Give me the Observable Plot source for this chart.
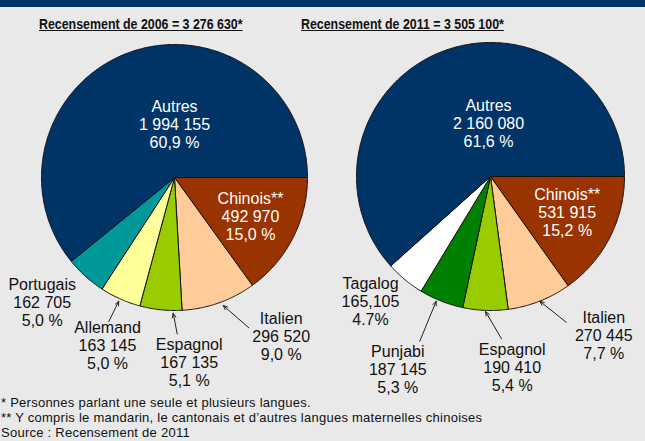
<!DOCTYPE html>
<html><head><meta charset="utf-8">
<script src="https://cdn.jsdelivr.net/npm/d3@7"></script>
<script src="https://cdn.jsdelivr.net/npm/@observablehq/plot@0.6"></script>
<style>
html,body{margin:0;padding:0;background:#e9e9e9;}
#wrap{position:relative;width:645px;height:441px;overflow:hidden;background:#e9e9e9;font-family:"Liberation Sans",Arial,sans-serif;color:#111;}
#bar{position:absolute;left:0;top:0;width:645px;height:7px;background:#003366;}
.titre{position:absolute;top:16px;line-height:16px;font-family:"Liberation Sans",Arial,sans-serif;font-weight:bold;font-size:14px;text-decoration:underline;white-space:nowrap;transform:scaleX(0.885);transform-origin:0 0;}
#notes{position:absolute;left:1px;top:396px;font-size:13px;letter-spacing:0.25px;line-height:14.8px;white-space:nowrap;}
#chart{position:absolute;left:0;top:0;}
</style></head>
<body>
<div id="wrap">
  <div id="bar"></div>
  <div class="titre" id="t1" style="left:39px"></div>
  <div class="titre" id="t2" style="left:301px"></div>
  <div id="chart"></div>
  <div id="notes"></div>
</div>
<script>
// ---- Data ----
const titres = ["Recensement de 2006 = 3 276 630*", "Recensement de 2011 = 3 505 100*"];
const langues2006 = ["Chinois**", "Italien", "Espagnol", "Allemand", "Portugais", "Autres"];
const valeurs2006 = [492970, 296520, 167135, 163145, 162705, 1994155];
const nombres2006 = ["492 970", "296 520", "167 135", "163 145", "162 705", "1 994 155"];
const pourcents2006 = ["15,0 %", "9,0 %", "5,1 %", "5,0 %", "5,0 %", "60,9 %"];

const langues2011 = ["Chinois**", "Italien", "Espagnol", "Punjabi", "Tagalog", "Autres"];
const valeurs2011 = [531915, 270445, 190410, 187145, 165105, 2160080];
const nombres2011 = ["531 915", "270 445", "190 410", "187 145", "165,105", "2 160 080"];
const pourcents2011 = ["15,2 %", "7,7 %", "5,4 %", "5,3 %", "4.7%", "61,6 %"];

const notes = [
  "* Personnes parlant une seule et plusieurs langues.",
  "** Y compris le mandarin, le cantonais et d’autres langues maternelles chinoises",
  "Source : Recensement de 2011"
];

// ---- Styles / layout ----
const palette = {
  "Chinois**": "#993300", "Italien": "#ffcc99", "Espagnol": "#99cc00",
  "Allemand": "#ffff99", "Portugais": "#009999", "Punjabi": "#008000",
  "Tagalog": "#ffffff", "Autres": "#003366"
};
const blanc = new Set(["Chinois**", "Autres"]);
const pies = [
  {cx: 174, cy: 177, r: 133},
  {cx: 490, cy: 176, r: 134}
];
// label anchor: centre x, baseline of middle line
const labelPos = [
  {"Chinois**": [250, 221], "Italien": [280.7, 340.7], "Espagnol": [188.7, 366.7], "Allemand": [107, 350], "Portugais": [41.7, 306.7], "Autres": [174, 129]},
  {"Chinois**": [566.7, 216.7], "Italien": [603.3, 340], "Espagnol": [511.7, 371.7], "Punjabi": [397.3, 374.3], "Tagalog": [370, 306], "Autres": [488, 128]}
];
const arrowPos = [
  {"Allemand": [108.3, 321, 118.3, 300.7], "Espagnol": [176.7, 333.3, 172.7, 312.7], "Italien": [248.3, 327.3, 222.7, 305]},
  {"Punjabi": [419.3, 340.7, 435.7, 300.7], "Espagnol": [501, 338.3, 485, 311], "Italien": [565.7, 321.7, 539.3, 300.7]}
];

document.getElementById("t1").textContent = titres[0];
document.getElementById("t2").textContent = titres[1];
document.getElementById("notes").innerHTML = notes.map(n => `<div>${n}</div>`).join("");

const years = [
  {langues: langues2006, valeurs: valeurs2006, nombres: nombres2006, pourcents: pourcents2006},
  {langues: langues2011, valeurs: valeurs2011, nombres: nombres2011, pourcents: pourcents2011}
];

const polys = [], labels = [], arrows = [];
years.forEach((yr, p) => {
  const {cx, cy, r} = pies[p];
  const arcs = d3.pie().sort(null).startAngle(Math.PI / 2).endAngle(Math.PI / 2 + 2 * Math.PI)(yr.valeurs);
  arcs.forEach((a, i) => {
    const k = p + "-" + yr.langues[i];
    const c = palette[yr.langues[i]];
    polys.push({k, x: cx, y: cy, c});
    const n = Math.max(2, Math.ceil((a.endAngle - a.startAngle) / (Math.PI / 360)));
    for (let j = 0; j <= n; j++) {
      const t = a.startAngle + (a.endAngle - a.startAngle) * j / n;
      polys.push({k, x: cx + r * Math.sin(t), y: cy - r * Math.cos(t), c});
    }
    polys.push({k, x: cx, y: cy, c});
    const lp = labelPos[p][yr.langues[i]];
    labels.push({
      x: lp[0], y: lp[1] - 5.1,
      text: yr.langues[i] + "\n" + yr.nombres[i] + "\n" + yr.pourcents[i],
      fill: blanc.has(yr.langues[i]) ? "#ffffff" : "#111111"
    });
    const ap = arrowPos[p][yr.langues[i]];
    if (ap) arrows.push({x1: ap[0], y1: ap[1], x2: ap[2], y2: ap[3]});
  });
});

const chart = Plot.plot({
  width: 645, height: 441, margin: 0,
  style: {background: "transparent"},
  x: {domain: [0, 645], range: [0, 645], axis: null},
  y: {domain: [0, 441], range: [0, 441], axis: null},
  color: {type: "identity"},
  marks: [
    Plot.line(polys, {x: "x", y: "y", z: "k", fill: "c", stroke: "#111", strokeWidth: 1, strokeLinejoin: "round"}),
    Plot.text(labels, {x: "x", y: "y", text: "text", fill: "fill", fontSize: 16, lineHeight: 1.125, textAnchor: "middle", fontFamily: "Liberation Sans, Arial, sans-serif"}),
    Plot.arrow(arrows, {x1: "x1", y1: "y1", x2: "x2", y2: "y2", stroke: "#222", strokeWidth: 1, headLength: 7, headAngle: 45})
  ]
});
document.getElementById("chart").appendChild(chart);
</script>
</body></html>
